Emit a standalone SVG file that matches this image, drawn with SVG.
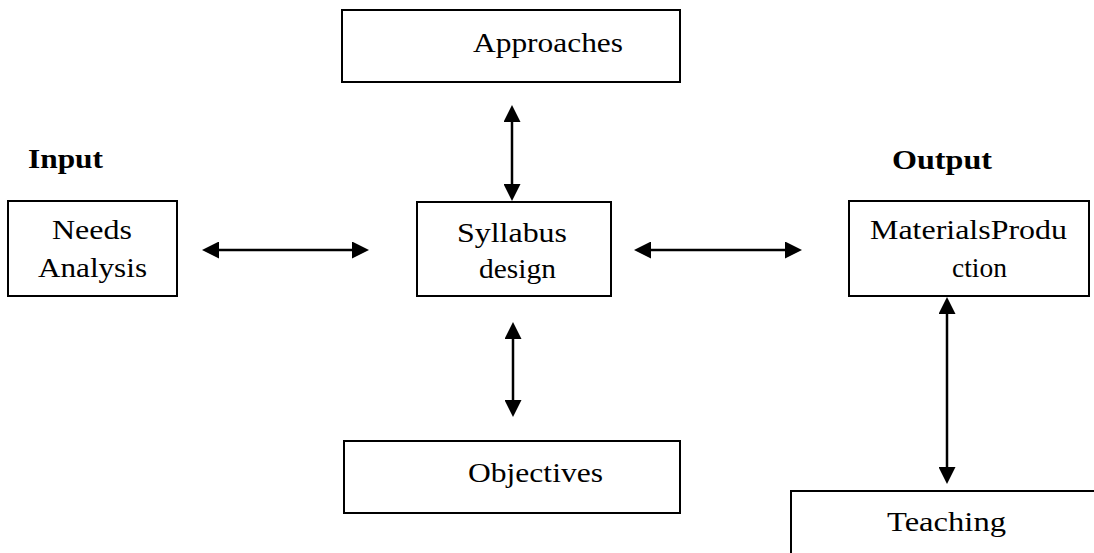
<svg xmlns="http://www.w3.org/2000/svg" width="1094" height="553" viewBox="0 0 1094 553">
  <style>
    .box { fill: #ffffff; stroke: #000000; stroke-width: 2; }
    .lbl { font-family: 'Times New Roman', 'Liberation Serif', 'DejaVu Serif', serif; font-size: 27px; fill: #000000; }
    .head { font-family: 'Times New Roman', 'Liberation Serif', 'DejaVu Serif', serif; font-size: 27px; font-weight: bold; fill: #000000; }
    .link { stroke: #000000; stroke-width: 2.5; fill: none; marker-start: url(#tip); marker-end: url(#tip); }
  </style>
  <defs>
    <marker id="tip" viewBox="0 0 17 17" refX="13" refY="8.5" markerWidth="17" markerHeight="17" markerUnits="userSpaceOnUse" orient="auto-start-reverse">
      <path d="M0,0 L17,8.5 L0,17 z" fill="#000000"/>
    </marker>
  </defs>
  <rect width="1094" height="553" fill="#ffffff"/>

  <!-- section headings -->
  <g id="input-heading">
    <text class="head" x="28" y="168" textLength="75" lengthAdjust="spacingAndGlyphs">Input</text>
  </g>
  <g id="output-heading">
    <text class="head" x="892" y="169" textLength="100" lengthAdjust="spacingAndGlyphs">Output</text>
  </g>

  <!-- nodes -->
  <g id="approaches">
    <rect class="box" x="342" y="10" width="338" height="72"/>
    <text class="lbl" x="473" y="52" textLength="150" lengthAdjust="spacingAndGlyphs">Approaches</text>
  </g>
  <g id="needs-analysis">
    <rect class="box" x="8" y="201" width="169" height="95"/>
    <text class="lbl" x="52" y="239" textLength="80" lengthAdjust="spacingAndGlyphs">Needs</text>
    <text class="lbl" x="38" y="277" textLength="109" lengthAdjust="spacingAndGlyphs">Analysis</text>
  </g>
  <g id="syllabus-design">
    <rect class="box" x="417" y="202" width="194" height="94"/>
    <text class="lbl" x="457" y="242" textLength="110" lengthAdjust="spacingAndGlyphs">Syllabus</text>
    <text class="lbl" x="479" y="278" textLength="77" lengthAdjust="spacingAndGlyphs">design</text>
  </g>
  <g id="materials-production">
    <rect class="box" x="849" y="201" width="240" height="95"/>
    <text class="lbl" x="870" y="239" textLength="197" lengthAdjust="spacingAndGlyphs">MaterialsProdu</text>
    <text class="lbl" x="952" y="277" textLength="55" lengthAdjust="spacingAndGlyphs">ction</text>
  </g>
  <g id="objectives">
    <rect class="box" x="344" y="441" width="336" height="72"/>
    <text class="lbl" x="468" y="482" textLength="135" lengthAdjust="spacingAndGlyphs">Objectives</text>
  </g>
  <g id="teaching">
    <rect class="box" x="791" y="491" width="400" height="100"/>
    <text class="lbl" x="887" y="531" textLength="119" lengthAdjust="spacingAndGlyphs">Teaching</text>
  </g>

  <!-- two-way connectors -->
  <g id="connectors">
    <line class="link" x1="206" y1="250" x2="365" y2="250"/>
    <line class="link" x1="638" y1="250" x2="798" y2="250"/>
    <line class="link" x1="512" y1="109" x2="512" y2="197"/>
    <line class="link" x1="513" y1="326" x2="513" y2="413"/>
    <line class="link" x1="947" y1="301" x2="947" y2="480"/>
  </g>
</svg>
